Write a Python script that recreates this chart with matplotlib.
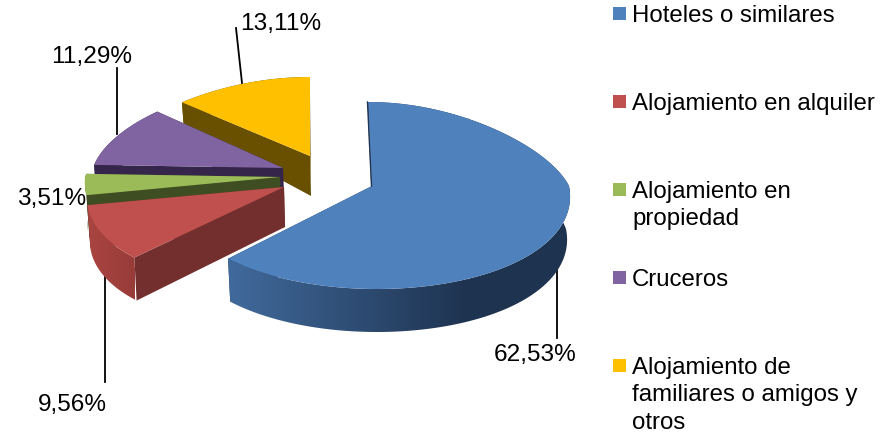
import numpy as np
import matplotlib
matplotlib.use("Agg")
import matplotlib.pyplot as plt
from matplotlib.patches import Polygon
from matplotlib.colors import LinearSegmentedColormap

plt.rcParams["font.family"] = ["Liberation Sans", "DejaVu Sans"]

# Datos de la tarta
categorias = ["Hoteles o similares", "Alojamiento en alquiler", "Alojamiento en\npropiedad",
              "Cruceros", "Alojamiento de\nfamiliares o amigos y\notros"]
valores = [62.53, 9.56, 3.51, 11.29, 13.11]

# Estilo: colores y posicion de cada porcion (px de la imagen)
col_top = ["#4F81BD", "#C0504D", "#9BBB59", "#8064A2", "#FFC000"]
col_cut = ["#1F3552", "#722F2D", "#3F4D22", "#35254B", "#685000"]
col_arc_a = ["#416A9C", "#AA4541", "#3F4D22", "#35254B", "#685000"]
col_arc_b = ["#1E3350", "#983C39", "#3F4D22", "#35254B", "#685000"]
centros = [(372, 186), (284, 187), (280, 177), (283, 168), (310, 156)]
radio_x = [197, 196, 195, 190, 202]
ry_front = [103, 100, 100, 100, 100]
ry_back = [84, 84, 84, 83, 79]
k_front = [0.08, 0.11, 0.05, 0.05, 0.05]
k_back = [0.2, 0.2, 0.2, 0.144, 0.2]
sesgo = [0.048, 0, 0, 0, 0]
DEPTH = 43
ENCOGE = 0.985  # la base se ve algo mas estrecha que la cara superior

lideres = [((557, 263), (557, 338)), ((105, 275), (105, 382)), None,
           ((117, 134), (117, 68)), ((242, 83), (236, 28))]
pos_etq = [(535, 355), (72, 405), (52, 199), (92, 57), (281, 24)]
leg_y = [14, 102, 190, 278, 366]


def punto(i, theta):
    cx, cy = centros[i]
    s, c = np.sin(theta), np.cos(theta)
    ry = np.where(c > 0, ry_back[i], ry_front[i])
    esc = np.where(c > 0, 1 - k_back[i] * c, 1 - k_front[i] * c)
    dy = -c * ry
    return cx + s * radio_x[i] * esc + sesgo[i] * dy, cy + dy


def prof(y, cy):
    # la cara lateral se acorta hacia el fondo
    return np.where(y < cy, DEPTH + 0.33 * (y - cy), DEPTH)


fig = plt.figure(figsize=(8.91, 4.33), dpi=100)
ax = fig.add_axes([0, 0, 1, 1])

fin = np.cumsum(valores) / np.sum(valores) * 2 * np.pi
ini = np.r_[0, fin[:-1]]

# de atras hacia delante
for i in [4, 3, 2, 1, 0]:
    cx, cy = centros[i]
    z = (4 - i) * 3
    t = np.linspace(ini[i], fin[i], 200)
    x, y = punto(i, t)
    d = prof(y, cy)
    xb = cx + (x - cx) * ENCOGE

    # caras de corte
    for j in [0, -1]:
        ax.fill([cx, x[j], xb[j], cx + 1], [cy, y[j], y[j] + d[j], cy + 40],
                color=col_cut[i], lw=0, zorder=1 + z)

    # borde exterior con degradado
    borde = np.c_[np.r_[x, xb[::-1]], np.r_[y, (y + d)[::-1]]]
    x1 = 468 if i == 0 else x.max() + 1
    x_ini = 228 if i == 0 else x.min()
    cmap = LinearSegmentedColormap.from_list("g", [col_arc_a[i], col_arc_b[i]])
    im = ax.imshow(np.linspace(0, 1, 256)[None, :], cmap=cmap, aspect="auto",
                   extent=(x_ini, x1, y.max() + DEPTH + 1, y.min() - 1), zorder=2 + z)
    if i == 0:
        # a partir de x1 el color ya es constante
        ax.fill(borde[:, 0].clip(x1), borde[:, 1], color=col_arc_b[i], lw=0, zorder=2 + z)
    im.set_clip_path(Polygon(borde, transform=ax.transData))

    # cara superior
    ax.fill(np.r_[cx, x], np.r_[cy, y], color=col_top[i], lw=0, zorder=3 + z)

# filo oscuro del primer corte azul
x0, y0 = punto(0, np.array(0.0))
ax.plot([x0 - 0.5, centros[0][0] - 0.5], [y0, centros[0][1]], color=col_cut[0], lw=1, zorder=20)

# lineas guia y etiquetas
for i, v in enumerate(valores):
    if lideres[i] is not None:
        p, q = lideres[i]
        ax.plot([p[0], q[0]], [p[1], q[1]], color="black", lw=1.3, zorder=0)
    ax.text(pos_etq[i][0], pos_etq[i][1], f"{v:.2f}".replace(".", ",") + "%", fontsize=17.6,
            ha="center", va="center", color="#000000", zorder=30)

# leyenda
for i, c in enumerate(categorias):
    ax.fill([613, 626, 626, 613], [leg_y[i] - 7, leg_y[i] - 7, leg_y[i] + 6, leg_y[i] + 6],
            color=col_top[i], lw=0)
    for n, linea in enumerate(c.split("\n")):
        ax.text(632, leg_y[i] + 2 + n * 27.3, linea, fontsize=17.3, ha="left", va="center", color="#000000")

ax.set_xlim(0, 891)
ax.set_ylim(433, 0)
ax.axis("off")

fig.savefig("out.png", dpi=100)
